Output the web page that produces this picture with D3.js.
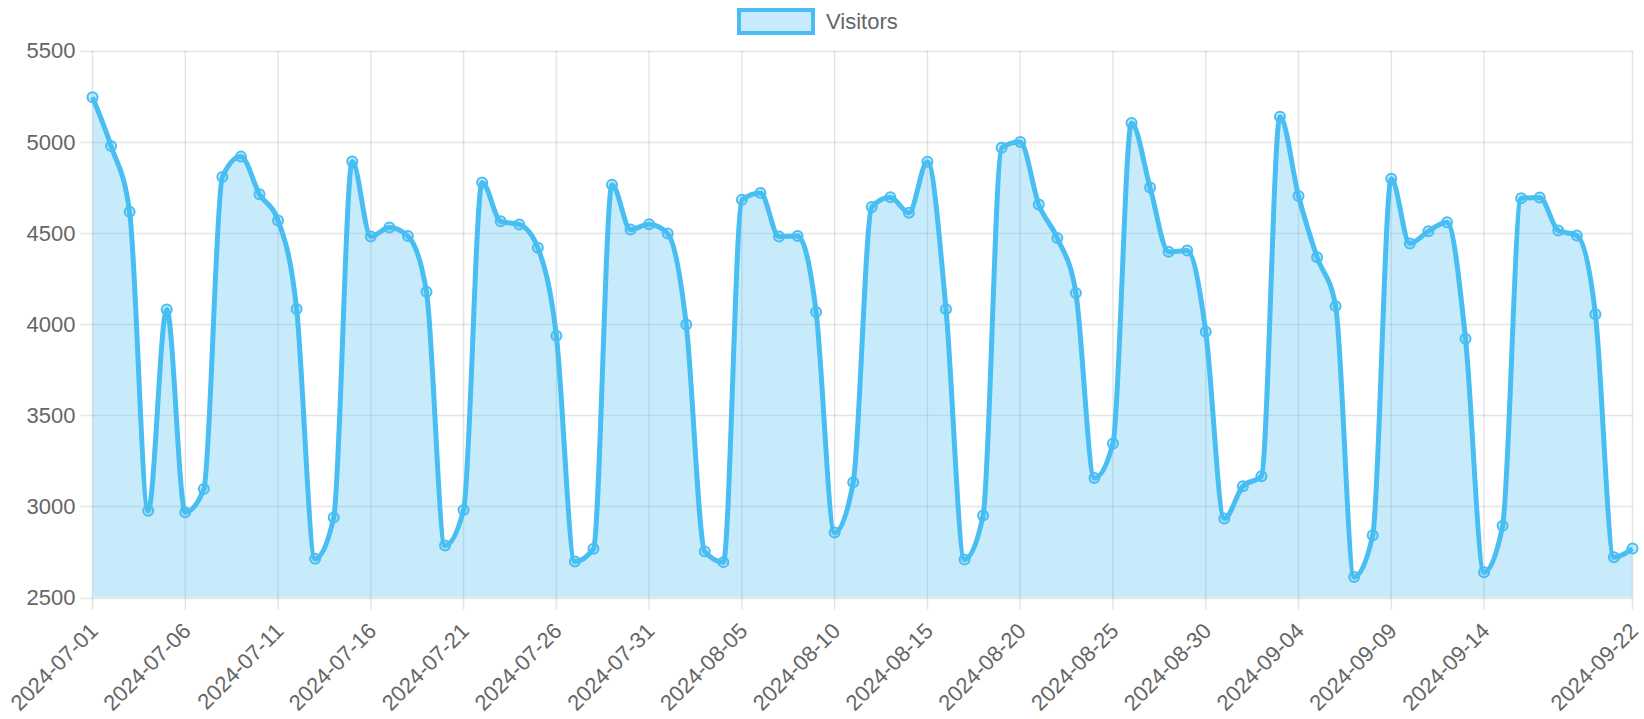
<!DOCTYPE html>
<html>
<head>
<meta charset="utf-8">
<script src="https://cdn.jsdelivr.net/npm/d3@7"></script>
<style>
	body { margin: 0; background: #fff; }
	svg { display: block; font-family: "Liberation Sans", Arial, Helvetica, sans-serif; }
</style>
</head>
<body>
<svg id="chart" width="1644" height="719"></svg>
<script>
// daily visitors, 2024-07-01 .. 2024-09-22
var startDate = "2024-07-01";
var visitors = [
	5244, 4976, 4615, 2976, 4080, 2968, 3095, 4806, 4918, 4712,
	4568, 4082, 2712, 2939, 4891, 4480, 4529, 4482, 4177, 2785,
	2980, 4776, 4563, 4546, 4418, 3935, 2697, 2767, 4764, 4518,
	4547, 4496, 3997, 2752, 2694, 4681, 4719, 4480, 4483, 4066,
	2856, 3132, 4642, 4695, 4610, 4890, 4081, 2709, 2950, 4967,
	4998, 4655, 4471, 4170, 3155, 3345, 5102, 4748, 4396, 4403,
	3958, 2933, 3110, 3165, 5137, 4702, 4366, 4098, 2613, 2841,
	4797, 4442, 4509, 4558, 3919, 2638, 2893, 4690, 4694, 4513,
	4486, 4054, 2721, 2769
];
var yTicks = [2500, 3000, 3500, 4000, 4500, 5000, 5500];
var seriesName = "Visitors";

var lineColor = "rgb(72,190,243)";
var fillColor = "rgba(72,190,243,0.3)";
var gridColor = "rgba(0,0,0,0.1)";
var textColor = "#666";

var parseDate = d3.timeParse("%Y-%m-%d");
var fmt = d3.timeFormat("%Y-%m-%d");
var t0 = parseDate(startDate);
var labels = visitors.map(function(v, i){ return fmt(d3.timeDay.offset(t0, i)); });

var plotL = 92.5, plotR = 1632.5, plotT = 50.5, plotB = 597.5;

var svg = d3.select("#chart");

var x = d3.scalePoint().domain(labels).range([plotL, plotR]);
var y = d3.scaleLinear().domain([2500, 5500]).range([plotB, plotT]);

// x ticks: every 5th day, plus the last one (autoskip style)
var xTickLabels = labels.filter(function(d, i){ return i % 5 === 0 && i <= labels.length - 6; });
xTickLabels.push(labels[labels.length - 1]);

//grid
var grid = svg.append("g");
grid.selectAll(".hg").data(yTicks).enter().append("line")
	.attr("x1", plotL - 12).attr("x2", plotR)
	.attr("y1", function(d){ return Math.round(y(d)) + 0.5; })
	.attr("y2", function(d){ return Math.round(y(d)) + 0.5; })
	.attr("stroke", gridColor).attr("stroke-width", 1.5);
grid.selectAll(".vg").data(xTickLabels).enter().append("line")
	.attr("x1", function(d){ return x(d); }).attr("x2", function(d){ return x(d); })
	.attr("y1", plotT).attr("y2", plotB + 12)
	.attr("stroke", gridColor).attr("stroke-width", 1.5);

//area + line
var area = d3.area()
	.x(function(d, i){ return x(labels[i]); })
	.y0(plotB)
	.y1(function(d){ return y(d); })
	.curve(d3.curveMonotoneX);
var line = d3.line()
	.x(function(d, i){ return x(labels[i]); })
	.y(function(d){ return y(d); })
	.curve(d3.curveMonotoneX);

svg.append("path").datum(visitors).attr("d", area).attr("fill", fillColor);
svg.append("path").datum(visitors).attr("d", line)
	.attr("fill", "none").attr("stroke", lineColor).attr("stroke-width", 5)
	.attr("stroke-linejoin", "round");

svg.append("g").selectAll("circle").data(visitors).enter().append("circle")
	.attr("cx", function(d, i){ return x(labels[i]); })
	.attr("cy", function(d){ return y(d); })
	.attr("r", 5)
	.attr("fill", fillColor)
	.attr("stroke", lineColor)
	.attr("stroke-width", 2);

//y labels
svg.append("g").selectAll("text").data(yTicks).enter().append("text")
	.attr("x", plotL - 17)
	.attr("y", function(d){ return y(d); })
	.attr("dy", "0.36em")
	.attr("text-anchor", "end")
	.attr("fill", textColor)
	.attr("font-size", 22)
	.text(function(d){ return d; });

//x labels, rotated
svg.append("g").selectAll("text").data(xTickLabels).enter().append("text")
	.attr("transform", function(d){ return "translate(" + (x(d) - 4) + "," + (plotB + 24) + ") rotate(-45)"; })
	.attr("dy", "0.7em")
	.attr("text-anchor", "end")
	.attr("fill", textColor)
	.attr("font-size", 22)
	.text(function(d){ return d; });

//legend
var lg = svg.append("g");
lg.append("rect")
	.attr("x", 739).attr("y", 10).attr("width", 74).attr("height", 23)
	.attr("fill", fillColor).attr("stroke", lineColor).attr("stroke-width", 4);
lg.append("text")
	.attr("x", 826).attr("y", 29)
	.attr("fill", textColor)
	.attr("font-size", 22)
	.text(seriesName);
</script>
</body>
</html>
